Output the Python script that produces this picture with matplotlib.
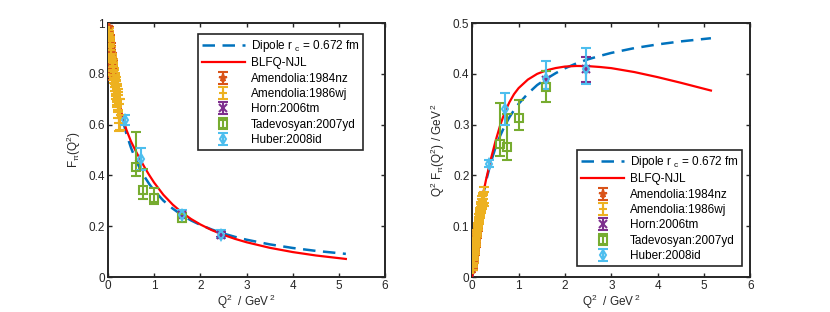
import numpy as np
import matplotlib
matplotlib.use('Agg')
import matplotlib.pyplot as plt

plt.rcParams['font.family'] = ['Liberation Sans', 'DejaVu Sans']
plt.rcParams['mathtext.fontset'] = 'custom'
plt.rcParams['mathtext.rm'] = 'Liberation Sans'
plt.rcParams['mathtext.it'] = 'Liberation Sans'

# Model curves (F_pi values)
q2_model = [0.0, 0.025, 0.05, 0.075, 0.1, 0.15, 0.2, 0.25, 0.3, 0.4, 0.5, 0.6, 0.7, 0.8, 0.9, 1.0,
            1.2, 1.4, 1.6, 1.8, 2.0, 2.25, 2.5, 2.75, 3.0, 3.5, 4.0, 4.5, 5.15]
f_dipole = [1.0, 0.954, 0.912, 0.873, 0.838, 0.775, 0.721, 0.674, 0.633, 0.564, 0.509, 0.463,
            0.425, 0.393, 0.365, 0.341, 0.301, 0.270, 0.244, 0.223, 0.2055, 0.187, 0.1715,
            0.1583, 0.1471, 0.1288, 0.1145, 0.1031, 0.0913]
f_blfq = [1.0, 0.956, 0.916, 0.879, 0.845, 0.783, 0.730, 0.684, 0.643, 0.580, 0.534, 0.497,
          0.463, 0.430, 0.400, 0.372, 0.324, 0.2857, 0.2544, 0.2286, 0.2072, 0.1847, 0.1661,
          0.1504, 0.1371, 0.1153, 0.0984, 0.0850, 0.0713]

# Amendolia:1984nz
q2_a84 = [0.014, 0.018, 0.022, 0.026, 0.030, 0.034, 0.038, 0.042, 0.046, 0.050, 0.054, 0.058, 0.062,
          0.066, 0.070, 0.074, 0.078, 0.082, 0.086, 0.090, 0.094, 0.098, 0.102, 0.108, 0.117]
f_a84 = [0.985, 0.965, 0.962, 0.950, 0.948, 0.935, 0.933, 0.921, 0.918, 0.910, 0.902, 0.898, 0.886,
         0.884, 0.872, 0.870, 0.860, 0.857, 0.848, 0.842, 0.838, 0.830, 0.826, 0.815, 0.805]
e_a84 = [0.018, 0.018, 0.019, 0.019, 0.020, 0.020, 0.020, 0.021, 0.021, 0.022, 0.022, 0.022, 0.023,
         0.023, 0.023, 0.024, 0.024, 0.025, 0.025, 0.025, 0.026, 0.026, 0.027, 0.027, 0.028]

# Amendolia:1986wj
q2_a86 = [0.015, 0.020, 0.025, 0.030, 0.035, 0.040, 0.045, 0.050, 0.055, 0.060, 0.065, 0.070, 0.075,
          0.080, 0.085, 0.090, 0.095, 0.100, 0.105, 0.110, 0.115, 0.120, 0.125, 0.130, 0.135, 0.140,
          0.145, 0.150, 0.155, 0.160, 0.165, 0.170, 0.175, 0.180, 0.185, 0.190, 0.195, 0.200, 0.205,
          0.210, 0.215, 0.225, 0.235, 0.245, 0.253]
f_a86 = [0.974, 0.962, 0.955, 0.947, 0.937, 0.930, 0.918, 0.912, 0.905, 0.896, 0.893, 0.880, 0.876,
         0.866, 0.860, 0.853, 0.846, 0.842, 0.830, 0.828, 0.817, 0.812, 0.806, 0.797, 0.795, 0.784,
         0.782, 0.770, 0.771, 0.757, 0.760, 0.745, 0.748, 0.731, 0.742, 0.720, 0.728, 0.705, 0.716,
         0.690, 0.700, 0.672, 0.655, 0.628, 0.640]
e_a86 = [0.008, 0.008, 0.008, 0.009, 0.009, 0.009, 0.010, 0.010, 0.010, 0.011, 0.011, 0.012, 0.012,
         0.013, 0.013, 0.014, 0.014, 0.015, 0.016, 0.016, 0.017, 0.018, 0.018, 0.019, 0.020, 0.021,
         0.022, 0.023, 0.024, 0.025, 0.026, 0.027, 0.028, 0.030, 0.031, 0.032, 0.034, 0.035, 0.037,
         0.039, 0.041, 0.044, 0.048, 0.053, 0.060]

# Horn:2006tm
q2_horn = [1.60, 2.45]
f_horn = [0.243, 0.167]
e_horn = [0.011, 0.010]

# Tadevosyan:2007yd
q2_tad = [0.60, 0.75, 1.00, 1.60]
f_tad = [0.435, 0.342, 0.313, 0.234]
eup_tad = [0.137, 0.085, 0.036, 0.019]
elo_tad = [0.038, 0.034, 0.024, 0.018]

# Huber:2008id
q2_hub = [0.36, 0.71, 1.60, 2.45]
f_hub = [0.62, 0.466, 0.244, 0.167]
eup_hub = [0.02, 0.044, 0.022, 0.017]
elo_hub = [0.02, 0.045, 0.013, 0.012]

c_blue = '#0072BD'
c_orange = '#D95319'
c_yellow = '#EDB120'
c_purple = '#7E2F8E'
c_green = '#77AC30'
c_cyan = '#4DBEEE'
c_axis = '#262626'

fig = plt.figure(figsize=(8.3, 3.12), dpi=100)
ax1 = fig.add_axes([0.130, 0.112, 0.334, 0.814])
ax2 = fig.add_axes([0.569, 0.112, 0.335, 0.814])


def draw(ax, scale):
    q = np.array(q2_model)
    s = q if scale else np.ones_like(q)
    ax.plot(q, s * np.array(f_dipole), '--', color=c_blue, lw=1.8, dashes=(5, 3),
            label='Dipole r $_{\\rm c}$ = 0.672 fm', zorder=3)
    ax.plot(q, s * np.array(f_blfq), '-', color='red', lw=1.6, label='BLFQ-NJL', zorder=3)

    sets = [
        (q2_a84, f_a84, e_a84, e_a84, c_orange, '*', 'Amendolia:1984nz'),
        (q2_a86, f_a86, e_a86, e_a86, c_yellow, '+', 'Amendolia:1986wj'),
        (q2_horn, f_horn, e_horn, e_horn, c_purple, 'x', 'Horn:2006tm'),
        (q2_tad, f_tad, elo_tad, eup_tad, c_green, 's', 'Tadevosyan:2007yd'),
        (q2_hub, f_hub, elo_hub, eup_hub, c_cyan, 'd', 'Huber:2008id'),
    ]
    for x, y, lo, hi, col, mk, lab in sets:
        x = np.array(x)
        k = x if scale else np.ones_like(x)
        ax.errorbar(x, k * np.array(y), yerr=[k * np.array(lo), k * np.array(hi)],
                    fmt=mk, color=col, ms=5.5, mfc='none' if mk in 'sd' else col,
                    mew=1.5, elinewidth=1.5, capsize=3.5, capthick=1.5, label=lab, zorder=4)

    ax.set_xlim(0, 6)
    ax.set_xticks(range(7))
    ax.tick_params(direction='in', top=True, right=True, length=3, width=1,
                   labelsize=8.5, colors=c_axis, pad=2)
    for sp in ax.spines.values():
        sp.set_linewidth(1.4)
        sp.set_color(c_axis)
    ax.set_xlabel('Q$^2$  / GeV$^{\\,2}$', fontsize=8.5, color=c_axis, labelpad=0.5)


def make_legend(ax, loc, anchor):
    leg = ax.legend(loc=loc, bbox_to_anchor=anchor, fontsize=8.5, frameon=True,
                    fancybox=False, edgecolor=c_axis, handlelength=3.6, borderpad=0.35,
                    labelspacing=0.28, handletextpad=0.5, borderaxespad=0, framealpha=1)
    leg.get_frame().set_linewidth(1.2)


draw(ax1, False)
ax1.set_ylim(0, 1)
ax1.set_yticks([0, 0.2, 0.4, 0.6, 0.8, 1])
ax1.set_yticklabels(['0', '0.2', '0.4', '0.6', '0.8', '1'])
ax1.set_ylabel('F$_\\pi$(Q$^2$)', fontsize=8.5, color=c_axis, labelpad=4)
make_legend(ax1, 'upper left', (0.325, 0.957))

draw(ax2, True)
ax2.set_ylim(0, 0.5)
ax2.set_yticks([0, 0.1, 0.2, 0.3, 0.4, 0.5])
ax2.set_yticklabels(['0', '0.1', '0.2', '0.3', '0.4', '0.5'])
ax2.set_ylabel('Q$^2$ F$_\\pi$(Q$^2$) / GeV$^{\\,2}$', fontsize=8.5, color=c_axis, labelpad=4)
make_legend(ax2, 'lower right', (0.971, 0.043))

fig.savefig('out.png', dpi=100)
